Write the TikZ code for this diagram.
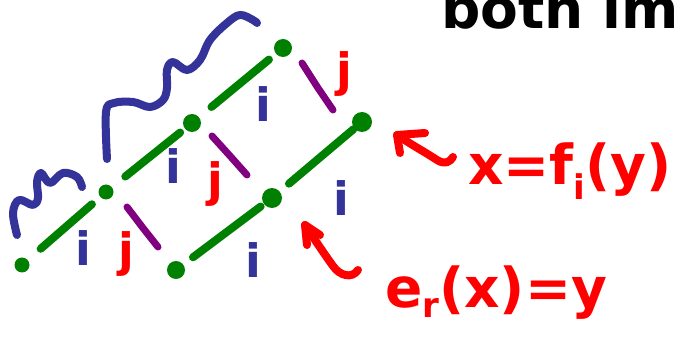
\documentclass[tikz,border=0pt]{standalone}
\usepackage{fontspec}
\setmainfont{DejaVu Sans}
\definecolor{pengreen}{RGB}{0,128,0}
\definecolor{penblue}{RGB}{51,51,153}
\definecolor{penpurple}{RGB}{128,0,128}
\definecolor{penred}{RGB}{255,0,0}
\begin{document}
\begin{tikzpicture}[x=1pt,y=-1pt,
  dot/.style={circle,fill=pengreen,inner sep=0pt,minimum size=#1},
  dot/.default=18pt,
  greenline/.style={draw=pengreen,line width=8pt,line cap=round},
  slash/.style={draw=penpurple,line width=7pt,line cap=round},
  brace/.style={draw=penblue,line width=8pt,line cap=round,line join=round},
  redpen/.style={draw=penred,line width=8pt,line cap=round,line join=round},
  ilabel/.style={text=penblue,font=\fontsize{46}{46}\selectfont\bfseries,inner sep=0pt,anchor=base},
  jlabel/.style={text=penred,font=\fontsize{46}{46}\selectfont\bfseries,inner sep=0pt,anchor=base},
  bigtext/.style={font=\fontsize{55}{55}\selectfont\bfseries,inner sep=0pt,anchor=base west}]
\useasboundingbox (0,0) rectangle (686,339);
\clip (0,0) rectangle (686,339);
% green dots
\node[dot=15pt] (d1) at (22,265) {};
\node[dot=15pt] (d2) at (106,192) {};
\node[dot] (d3) at (192,123) {};
\node[dot] (d4) at (283,48) {};
\node[dot] (e1) at (176,270) {};
\node[dot=20pt] (e2) at (272,198) {};
\node[dot=20pt] (e3) at (362,122) {};
% green lines
\draw[greenline,shorten <=17pt,shorten >=11pt] (d1) -- (d2);
\draw[greenline,shorten <=17pt,shorten >=6pt] (d2) -- (d3);
\draw[greenline,shorten <=16pt,shorten >=9pt] (d3) -- (d4);
\draw[greenline,shorten <=12pt,shorten >=4pt] (e1) -- (e2);
\draw[greenline,shorten <=12pt,shorten >=1pt] (e2) -- (e3);
% purple slashes
\draw[slash] (302,63) -- (318,88) -- (333,110);
\draw[slash] (212,136) -- (231,157) -- (247,175);
\draw[slash] (127,207) -- (143,228) -- (158,247);
% blue i labels
\node[ilabel] (i1) at (263,122) {i};
\node[ilabel] (i2) at (173,184) {i};
\node[ilabel] (i3) at (83,266) {i};
\node[ilabel] (i4) at (341,216) {i};
\node[ilabel] (i5) at (253,278) {i};
% red j labels
\node[jlabel] (j1) at (344,87) {j};
\node[jlabel] (j2) at (215,197) {j};
\node[jlabel] (j3) at (126,267) {j};
% blue braces
\draw[brace] plot[smooth,tension=0.6] coordinates {(107,159) (106,112) (114,103) (133,102) (150,107) (163,100) (167,88) (167,70) (173,62) (187,70) (200,60) (210,40) (227,23) (240,15) (253,20) (257,23)};
\draw[brace] plot[smooth,tension=0.6] coordinates {(17,235) (13,213) (19,200) (33,205) (38,198) (37,182) (41,173) (50,183) (63,173) (77,177) (82,187)};
% red arrows
\coordinate (a1tip) at (397,135);
\draw[redpen] (425,133) -- (a1tip) -- (400,153);
\draw[redpen] (a1tip) .. controls (415,147) and (425,152) .. (437,160) .. controls (445,165) and (450,162) .. (453,157);
\coordinate (a2tip) at (305,225);
\draw[redpen] (320,235) -- (a2tip) -- (307,245);
\draw[redpen] (a2tip) .. controls (315,240) and (325,255) .. (333,266) .. controls (340,276) and (352,279) .. (358,270);
% texts
\node[bigtext,text=penred] (eq1) at (468,185) {x=f\raisebox{-15pt}{\fontsize{34}{34}\selectfont i}(y)};
\node[bigtext,text=penred] (eq2) at (385,308) {e\raisebox{-10pt}{\fontsize{34}{34}\selectfont r}(x)=y};
\node[bigtext,text=black] (title) at (441,29) {both im};
\end{tikzpicture}
\end{document}
